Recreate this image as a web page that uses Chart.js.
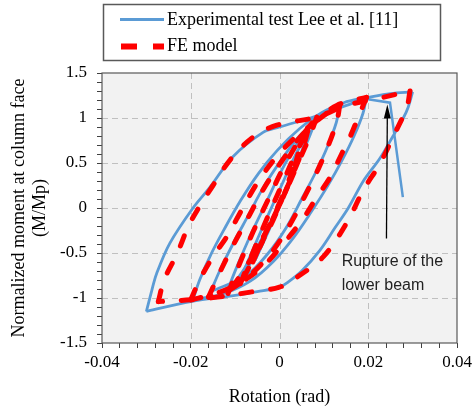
<!DOCTYPE html>
<html>
<head>
<meta charset="utf-8">
<script src="https://cdn.jsdelivr.net/npm/chart.js@4.4.1/dist/chart.umd.min.js"></script>
<style>
  html, body { margin: 0; padding: 0; background: #fff; }
  #wrap { width: 473px; height: 413px; }
</style>
</head>
<body>
<div id="wrap"><canvas id="hysteresisChart" width="473" height="413"></canvas></div>
<script>
// Series names
const seriesNames = ['Experimental test Lee et al. [11]', 'FE model'];

// Experimental loops (rotation rad, M/Mp) - each loop split into up / down branch
const b0Up = [[-0.0055, -0.58], [-0.0030, -0.30], [0.0000, 0.02], [0.0025, 0.35], [0.0045, 0.62]];
const b0Down = [[0.0045, 0.62], [0.0030, 0.38], [0.0005, 0.08], [-0.0025, -0.26], [-0.0055, -0.58]];
const b05Up = [[-0.0090, -0.82], [-0.0065, -0.52], [-0.0035, -0.18], [0.0000, 0.20], [0.0035, 0.58], [0.0065, 0.85]];
const b05Down = [[0.0065, 0.85], [0.0048, 0.60], [0.0018, 0.24], [-0.0018, -0.16], [-0.0055, -0.52], [-0.0090, -0.82]];
const b1Up = [[-0.0120, -0.95], [-0.0095, -0.64], [-0.0065, -0.30], [-0.0030, 0.06], [0.0005, 0.42], [0.0045, 0.76], [0.0084, 1.01]];
const b1Down = [[0.0084, 1.01], [0.0068, 0.80], [0.0038, 0.46], [0.0003, 0.08], [-0.0038, -0.32], [-0.0080, -0.68], [-0.0120, -0.95]];
const b2Up = [[-0.0155, -0.93], [-0.0135, -0.70], [-0.0105, -0.40], [-0.0070, -0.08], [-0.0035, 0.24], [0.0005, 0.54], [0.0045, 0.80], [0.0090, 0.99], [0.0136, 1.14]];
const b2Down = [[0.0136, 1.14], [0.0128, 0.95], [0.0108, 0.68], [0.0082, 0.40], [0.0050, 0.10], [0.0015, -0.22], [-0.0025, -0.50], [-0.0075, -0.75], [-0.0155, -0.93]];
const b3Up = [[-0.0195, -1.02], [-0.0180, -0.80], [-0.0155, -0.52], [-0.0125, -0.24], [-0.0088, 0.08], [-0.0048, 0.38], [-0.0005, 0.64], [0.0045, 0.88], [0.0095, 1.06], [0.0145, 1.17], [0.0196, 1.23]];
const b3Down = [[0.0196, 1.23], [0.0188, 1.05], [0.0168, 0.80], [0.0140, 0.52], [0.0108, 0.24], [0.0072, -0.04], [0.0030, -0.34], [-0.0015, -0.60], [-0.0065, -0.81], [-0.0125, -0.95], [-0.0195, -1.02]];
const b4Up = [[-0.0300, -1.15], [-0.0288, -0.92], [-0.0277, -0.73], [-0.0247, -0.39], [-0.0195, 0.00], [-0.0157, 0.23], [-0.0105, 0.57], [-0.0037, 0.84], [0.0000, 0.90], [0.0076, 1.01], [0.0151, 1.14], [0.0195, 1.22], [0.0250, 1.27], [0.0300, 1.29]];
const b4Down = [[0.0300, 1.29], [0.0290, 1.12], [0.0279, 1.00], [0.0256, 0.80], [0.0226, 0.55], [0.0189, 0.30], [0.0155, 0.00], [0.0125, -0.22], [0.0091, -0.47], [0.0050, -0.70], [0.0020, -0.82], [0.0000, -0.88], [-0.0050, -0.93], [-0.0100, -0.97], [-0.0200, -1.04], [-0.0300, -1.15]];
const bRupture = [[0.0196, 1.21], [0.0249, 1.17], [0.0278, 0.12]];

// FE model loops
const r0Up = [[-0.0060, -0.60], [-0.0035, -0.32], [-0.0005, 0.00], [0.0022, 0.32], [0.0042, 0.60]];
const r0Down = [[0.0042, 0.60], [0.0028, 0.36], [0.0002, 0.06], [-0.0030, -0.28], [-0.0060, -0.60]];
const r05Up = [[-0.0088, -0.84], [-0.0062, -0.52], [-0.0032, -0.16], [0.0002, 0.22], [0.0036, 0.60], [0.0064, 0.86]];
const r05Down = [[0.0064, 0.86], [0.0050, 0.62], [0.0020, 0.26], [-0.0015, -0.14], [-0.0052, -0.50], [-0.0088, -0.84]];
const r1Up = [[-0.0116, -0.95], [-0.0090, -0.62], [-0.0060, -0.27], [-0.0025, 0.10], [0.0010, 0.46], [0.0048, 0.78], [0.0084, 1.01]];
const r1Down = [[0.0084, 1.01], [0.0070, 0.82], [0.0042, 0.50], [0.0008, 0.12], [-0.0032, -0.28], [-0.0075, -0.65], [-0.0116, -0.95]];
const r2Up = [[-0.0160, -0.99], [-0.0135, -0.72], [-0.0105, -0.42], [-0.0070, -0.10], [-0.0035, 0.22], [0.0005, 0.52], [0.0045, 0.78], [0.0090, 0.99], [0.0136, 1.15]];
const r2Down = [[0.0136, 1.15], [0.0130, 0.98], [0.0112, 0.72], [0.0088, 0.44], [0.0058, 0.14], [0.0024, -0.18], [-0.0016, -0.48], [-0.0065, -0.74], [-0.0116, -0.92], [-0.0160, -0.99]];
const r3Up = [[-0.0200, -1.02], [-0.0180, -0.80], [-0.0150, -0.54], [-0.0119, -0.32], [-0.0085, -0.02], [-0.0050, 0.28], [-0.0010, 0.55], [0.0030, 0.76], [0.0084, 0.97], [0.0129, 1.14], [0.0196, 1.23]];
const r3Down = [[0.0196, 1.23], [0.0181, 1.05], [0.0159, 0.79], [0.0140, 0.60], [0.0114, 0.34], [0.0084, 0.12], [0.0053, -0.12], [0.0008, -0.40], [-0.0040, -0.66], [-0.0100, -0.86], [-0.0150, -0.96], [-0.0200, -1.02]];
const r4Up = [[-0.0273, -1.04], [-0.0260, -0.80], [-0.0230, -0.50], [-0.0206, -0.21], [-0.0180, 0.02], [-0.0150, 0.25], [-0.0112, 0.53], [-0.0059, 0.79], [-0.0006, 0.92], [0.0084, 1.01], [0.0151, 1.14], [0.0234, 1.23], [0.0294, 1.30]];
const r4Down = [[0.0294, 1.30], [0.0287, 1.12], [0.0256, 0.79], [0.0226, 0.49], [0.0189, 0.20], [0.0151, -0.17], [0.0099, -0.54], [0.0039, -0.77], [0.0000, -0.88], [-0.0060, -0.93], [-0.0140, -0.99], [-0.0200, -1.02], [-0.0273, -1.04]];

// Axis ticks
const xMajor = [-0.04, -0.02, 0, 0.02, 0.04];
const yMajor = [-1.5, -1, -0.5, 0, 0.5, 1, 1.5];
const xGridAt = [-0.02, 0, 0.02];
const yGridAt = [-1, -0.5, 0, 0.5, 1];
const xMinorStep = 0.004;
const yMinorStep = 0.1;

// Annotation
const noteLines = ['Rupture of the', 'lower beam'];
const noteAt = [0.0140, -0.60];
const arrowFrom = [0.0241, -0.34];
const arrowTo = [0.0243, 1.15];

const BLUE = '#5b9bd5';
const RED = '#ff0000';

const near = (v, list) => list.some(m => Math.abs(v - m) < 1e-6);
const toXY = arr => arr.map(p => ({x: p[0], y: p[1]}));

// explicit tick list from min to max in minor steps
function stepTicks(min, max, step) {
  const n = Math.round((max - min) / step);
  const out = [];
  for (let i = 0; i <= n; i++) out.push({value: +(min + i * step).toFixed(6)});
  return out;
}

const blueSets = [b0Up, b0Down, b05Up, b05Down, b1Up, b1Down, b2Up, b2Down, b3Up, b3Down, b4Up, b4Down];
const redSets = [r0Up, r0Down, r05Up, r05Down, r1Up, r1Down, r2Up, r2Down, r3Up, r3Down, r4Up, r4Down];

const datasets = [];
redSets.forEach(s => datasets.push({
  label: seriesNames[1],
  data: toXY(s),
  showLine: true,
  borderColor: RED,
  borderWidth: 5,
  borderDash: [11, 19],
  borderCapStyle: 'round',
  pointRadius: 0,
  tension: 0.35,
  order: 0
}));
blueSets.forEach(s => datasets.push({
  label: seriesNames[0],
  data: toXY(s),
  showLine: true,
  borderColor: BLUE,
  borderWidth: 2.8,
  pointRadius: 0,
  tension: 0.35,
  order: 1
}));
datasets.push({
  label: seriesNames[0],
  data: toXY(bRupture),
  showLine: true,
  borderColor: BLUE,
  borderWidth: 2.5,
  pointRadius: 0,
  tension: 0,
  order: 1
});

// grey plot area, dashed grid, frame
const plotFrame = {
  id: 'plotFrame',
  beforeDraw(chart) {
    const {ctx, chartArea: a} = chart;
    ctx.save();
    ctx.fillStyle = '#f2f2f2';
    ctx.fillRect(a.left, a.top, a.right - a.left, a.bottom - a.top);
    ctx.restore();
  },
  beforeDatasetsDraw(chart) {
    const {ctx, chartArea: a, scales: {x, y}} = chart;
    ctx.save();
    ctx.strokeStyle = '#c0c0c0';
    ctx.lineWidth = 1;
    ctx.setLineDash([6, 4]);
    xGridAt.forEach(v => {
      const px = Math.round(x.getPixelForValue(v)) + 0.5;
      ctx.beginPath();
      ctx.moveTo(px, a.top);
      ctx.lineTo(px, a.bottom);
      ctx.stroke();
    });
    yGridAt.forEach(v => {
      const py = Math.round(y.getPixelForValue(v)) + 0.5;
      ctx.beginPath();
      ctx.moveTo(a.left, py);
      ctx.lineTo(a.right, py);
      ctx.stroke();
    });
    ctx.restore();
  },
  afterDraw(chart) {
    const {ctx, chartArea: a} = chart;
    ctx.save();
    ctx.strokeStyle = '#595959';
    ctx.lineWidth = 1.2;
    ctx.strokeRect(a.left, a.top, a.right - a.left, a.bottom - a.top);
    ctx.restore();
  }
};

// boxed legend above the plot
const boxLegend = {
  id: 'boxLegend',
  afterDraw(chart) {
    const {ctx} = chart;
    ctx.save();
    ctx.strokeStyle = '#595959';
    ctx.lineWidth = 1.5;
    ctx.strokeRect(103.5, 4.5, 337, 56);

    ctx.strokeStyle = BLUE;
    ctx.lineWidth = 3;
    ctx.beginPath();
    ctx.moveTo(120, 19.5);
    ctx.lineTo(164, 19.5);
    ctx.stroke();

    ctx.strokeStyle = RED;
    ctx.lineWidth = 6;
    ctx.setLineDash([16, 16]);
    ctx.beginPath();
    ctx.moveTo(121, 46.5);
    ctx.lineTo(164, 46.5);
    ctx.stroke();
    ctx.setLineDash([]);

    ctx.fillStyle = '#000';
    ctx.font = '18px "Liberation Serif"';
    ctx.textBaseline = 'middle';
    ctx.textAlign = 'left';
    ctx.fillText(seriesNames[0], 167, 20);
    ctx.fillText(seriesNames[1], 167, 46);
    ctx.restore();
  }
};

// rupture arrow and note
const rupture = {
  id: 'rupture',
  afterDatasetsDraw(chart) {
    const {ctx, scales: {x, y}} = chart;
    const x0 = x.getPixelForValue(arrowFrom[0]), y0 = y.getPixelForValue(arrowFrom[1]);
    const x1 = x.getPixelForValue(arrowTo[0]), y1 = y.getPixelForValue(arrowTo[1]);
    ctx.save();
    ctx.strokeStyle = '#000';
    ctx.fillStyle = '#000';
    ctx.lineWidth = 1.3;
    ctx.beginPath();
    ctx.moveTo(x0, y0);
    ctx.lineTo(x1, y1 + 10);
    ctx.stroke();
    ctx.beginPath();
    ctx.moveTo(x1, y1);
    ctx.lineTo(x1 - 3.5, y1 + 14);
    ctx.lineTo(x1 + 3.5, y1 + 14);
    ctx.closePath();
    ctx.fill();

    ctx.fillStyle = '#222';
    ctx.font = '16px "Liberation Sans"';
    ctx.textBaseline = 'middle';
    ctx.textAlign = 'left';
    const nx = x.getPixelForValue(noteAt[0]);
    const ny = y.getPixelForValue(noteAt[1]);
    noteLines.forEach((t, i) => ctx.fillText(t, nx, ny + i * 24));
    ctx.restore();
  }
};

const serif = {family: '"Liberation Serif", "Times New Roman", serif'};
const tickGrid = {
  drawOnChartArea: false,
  drawTicks: true,
  tickLength: 5,
  tickColor: '#404040',
  tickWidth: 1
};

new Chart(document.getElementById('hysteresisChart').getContext('2d'), {
  type: 'scatter',
  data: {datasets},
  options: {
    responsive: false,
    animation: false,
    layout: {padding: {top: 73, right: 16, left: 0, bottom: 0}},
    plugins: {legend: {display: false}, tooltip: {enabled: false}},
    scales: {
      x: {
        type: 'linear',
        min: -0.04,
        max: 0.04,
        afterBuildTicks(scale) { scale.ticks = stepTicks(-0.04, 0.04, xMinorStep); },
        afterFit(scale) {
          scale.height = 70;
          scale.paddingLeft = 0;
          scale.paddingRight = 0;
        },
        ticks: {
          autoSkip: false,
          maxRotation: 0,
          minRotation: 0,
          padding: 4,
          color: '#000',
          font: {...serif, size: 17},
          callback: v => near(v, xMajor) ? (Math.abs(v) < 1e-9 ? '0' : v.toFixed(2)) : ''
        },
        grid: tickGrid,
        border: {display: false},
        title: {
          display: true,
          text: 'Rotation (rad)',
          color: '#000',
          font: {...serif, size: 18},
          padding: {top: 0, bottom: 5}
        }
      },
      y: {
        type: 'linear',
        min: -1.5,
        max: 1.5,
        afterBuildTicks(scale) { scale.ticks = stepTicks(-1.5, 1.5, yMinorStep); },
        afterFit(scale) { scale.width = 102; },
        ticks: {
          autoSkip: false,
          padding: 10,
          color: '#000',
          font: {...serif, size: 17},
          callback: v => near(v, yMajor) ? String(Math.round(v * 10) / 10) : ''
        },
        grid: tickGrid,
        border: {display: false},
        title: {
          display: true,
          text: ['Normalized moment at column face', '(M/Mp)'],
          color: '#000',
          font: {...serif, size: 18},
          padding: {top: 8, bottom: 0}
        }
      }
    }
  },
  plugins: [plotFrame, boxLegend, rupture]
});
</script>
</body>
</html>
